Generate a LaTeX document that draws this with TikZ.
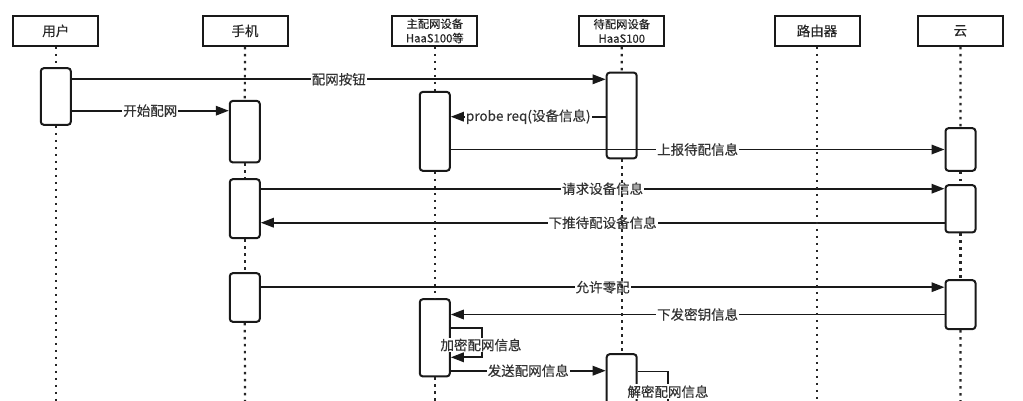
\documentclass[tikz,border=0pt]{standalone}
\usepackage{fontspec}
\setmainfont{Noto Sans CJK SC}[FakeBold=0.35]
\usetikzlibrary{arrows.meta}
\begin{document}
\begin{tikzpicture}[x=1pt,y=-1pt,
  head/.style={draw=black!90, line width=2pt, minimum width=85pt, minimum height=30pt, inner sep=0pt, text=black!85, font=\fontsize{13.5}{16}\selectfont},
  headsm/.style={head, font=\fontsize{11.3}{14.3}\selectfont, align=center},
  act/.style={draw=black!90, fill=white, line width=2pt, rounded corners=3pt, minimum width=30pt, inner sep=0pt},
  life/.style={draw=black!85, line width=2.2pt, dash pattern=on 2.5pt off 4.5pt},
  msgline/.style={draw=black!90, line width=1.7pt},
  msg/.style={msgline, -{Triangle[length=13pt,width=9.5pt]}},
  lbl/.style={fill=white, inner sep=1pt, text=black!80, font=\fontsize{13.5}{16}\selectfont}
]
\useasboundingbox (0,0) rectangle (1023,400);
\clip (0,0) rectangle (1023,400);
\fill[white] (0,0) rectangle (1023,400);

% headers
\node[head] (hu) at (55.8,30.9) {用户};
\node[head] (hp) at (245,30.9) {手机};
\node[headsm] (hm) at (434.8,30.9) {主配网设备\\HaaS100等};
\node[headsm] (hd) at (621.8,30.9) {待配网设备\\HaaS100};
\node[head] (hr) at (817,30.9) {路由器};
\node[head] (hc) at (960.4,30.9) {云};

% activation boxes
\node[act, minimum height=56.6pt] (u1) at (55.8,96.5) {};
\node[act, minimum height=61.5pt] (p1) at (244.8,131.65) {};
\node[act, minimum height=58.9pt] (p2) at (244.8,208.65) {};
\node[act, minimum height=48.6pt] (p3) at (244.8,297.5) {};
\node[act, minimum height=78.9pt] (m1) at (434.8,131.35) {};
\node[act, minimum height=77.2pt] (m2) at (434.8,337.8) {};
\node[act, minimum height=85.8pt] (d1) at (621.7,115.5) {};
\node[act, minimum height=84.9pt] (d2) at (621.7,396.65) {};
\node[act, minimum height=42.6pt] (c1) at (960.5,149.5) {};
\node[act, minimum height=47.2pt] (c2) at (960.5,208.8) {};
\node[act, minimum height=48.9pt] (c3) at (960.5,304.65) {};

% rows
\coordinate (r1) at (0,79.3);
\coordinate (r2) at (0,110.7);
\coordinate (r3) at (0,116.7);
\coordinate (r4) at (0,149.5);
\coordinate (r5) at (0,188.7);
\coordinate (r6) at (0,222.7);
\coordinate (r7) at (0,287.2);
\coordinate (r8) at (0,314.5);
\coordinate (r10) at (0,370.7);
\coordinate (l1) at (481.7,327.7);
\coordinate (l1b) at (481.7,357.3);
\coordinate (l2) at (667.7,371.5);
\coordinate (l2b) at (667.7,445);
\coordinate (bot) at (0,405);

% messages
\draw[msg] (u1.east|-r1) -- node[lbl]{配网按钮} (d1.west|-r1);
\draw[msg] (u1.east|-r2) -- node[lbl]{开始配网} (p1.west|-r2);
\draw[msg] (d1.west|-r3) -- node[lbl]{probe req(设备信息)} (m1.east|-r3);
\draw[msg] (m1.east|-r4) -- node[lbl]{上报待配信息} (c1.west|-r4);
\draw[msg] (p2.east|-r5) -- node[lbl]{请求设备信息} (c2.west|-r5);
\draw[msg] (c2.west|-r6) -- node[lbl]{下推待配设备信息} (p2.east|-r6);
\draw[msg] (p3.east|-r7) -- node[lbl]{允许零配} (c3.west|-r7);
\draw[msg] (c3.west|-r8) -- node[lbl]{下发密钥信息} (m2.east|-r8);
\draw[msg] (m2.east|-l1) -- (l1) -- (l1b) -- (m2.east|-l1b);
\node[lbl] (t9) at (481,345) {加密配网信息};
\draw[msg] (m2.east|-r10) -- node[lbl]{发送配网信息} (d2.west|-r10);
\draw[msgline] (d2.east|-l2) -- (l2) -- (l2b);
\node[lbl] (t11) at (668,391.7) {解密配网信息};

% lifelines
\draw[life] (hu.south) -- (u1.north);
\draw[life] (u1.south) -- (hu.south|-bot);
\draw[life] (hp.south) -- (p1.north);
\draw[life] (p1.south) -- (p2.north);
\draw[life] (p2.south) -- (p3.north);
\draw[life] (p3.south) -- (hp.south|-bot);
\draw[life] (hm.south) -- (m1.north);
\draw[life] (m1.south) -- (m2.north);
\draw[life] (m2.south) -- (hm.south|-bot);
\draw[life] (hd.south) -- (d1.north);
\draw[life] (d1.south) -- (d2.north);
\draw[life] (hr.south) -- (hr.south|-bot);
\draw[life] (hc.south) -- (c1.north);
\draw[life] (c1.south) -- (c2.north);
\draw[life] (c2.south) -- (c3.north);
\draw[life] (c3.south) -- (hc.south|-bot);
\end{tikzpicture}
\end{document}
